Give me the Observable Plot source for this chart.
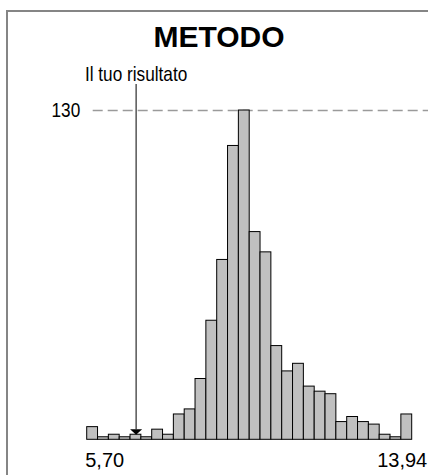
<!DOCTYPE html>
<html>
<head>
<meta charset="utf-8">
<script src="https://cdn.jsdelivr.net/npm/d3@7"></script>
<script src="https://cdn.jsdelivr.net/npm/@observablehq/plot@0.6"></script>
<style>
  html, body { margin: 0; padding: 0; background: #fff; }
  body { width: 428px; height: 475px; position: relative; overflow: hidden; font-family: "Liberation Sans", Arial, sans-serif; }
  #frame { position: absolute; left: 6px; top: 10px; width: 600px; height: 600px; border-left: 2px solid #858585; border-top: 2px solid #858585; }
  #title { position: absolute; left: 0; top: 22px; width: 438px; text-align: center; font-size: 30px; line-height: 30px; font-weight: bold; color: #000; }
  #chart { position: absolute; left: 0; top: 0; }
</style>
</head>
<body>
<div id="frame"></div>
<div id="chart"></div>
<div id="title"></div>
<script>
// ---- data ----
const title = "METODO";
const resultLabel = "Il tuo risultato";
const xMin = 5.70;
const xMax = 13.94;
const counts = [5, 1, 2, 1, 2, 1, 4, 2, 10, 12, 24, 47, 71, 116, 130, 82, 74, 37, 27, 30, 21, 19, 18, 7, 9, 7, 6, 2, 1, 10];
const yourResult = 6.94;
const refLine = 130;
const xTickLabels = ["5,70", "13,94"];

// ---- build table ----
const binW = (xMax - xMin) / counts.length;
const bins = counts.map((c, i) => ({x1: xMin + i * binW, x2: xMin + (i + 1) * binW, count: c}));
const resultBin = bins.find(b => yourResult >= b.x1 && yourResult < b.x2);

document.getElementById("title").textContent = title;

// flat downward-pointing triangle symbol
const downTri = {
  draw(ctx, size) {
    const w = 6, h = 5.5;
    ctx.moveTo(-w, -h);
    ctx.lineTo(w, -h);
    ctx.lineTo(0, 0);
    ctx.closePath();
  }
};

const chart = Plot.plot({
  width: 428,
  height: 475,
  marginLeft: 86.7,
  marginRight: 16.3,
  marginTop: 110,
  marginBottom: 35.7,
  style: {fontFamily: "'Liberation Sans', Arial, sans-serif", background: "transparent", overflow: "visible"},
  x: {domain: [xMin, xMax], axis: null},
  y: {domain: [0, refLine], axis: null},
  marks: [
    Plot.ruleY([refLine], {stroke: "#9a9a9a", strokeWidth: 1.6, strokeDasharray: "10,5", insetLeft: 6, insetRight: -17}),
    Plot.text([refLine], {y: d => d, text: d => String(d), frameAnchor: "left", textAnchor: "end", dx: -7, fontSize: 21, fill: "#000", className: "narrow"}),
    Plot.rectY(bins, {x1: "x1", x2: "x2", y: "count", fill: "#c0c0c0", stroke: "#000", strokeWidth: 1}),
    Plot.ruleX([yourResult], {x: d => d, y1: refLine, y2: resultBin.count, insetTop: -26, insetBottom: 5, stroke: "#000", strokeWidth: 1}),
    Plot.dot([yourResult], {x: d => d, y: resultBin.count, symbol: downTri, fill: "#000", stroke: "none", r: 4}),
    Plot.text([resultLabel], {x: yourResult, text: d => d, frameAnchor: "top", lineAnchor: "bottom", dy: -30, fontSize: 21, fill: "#000", className: "narrow"}),
    Plot.text([xTickLabels[0]], {x: xMin, text: d => d, frameAnchor: "bottom", lineAnchor: "top", textAnchor: "start", dx: -2, dy: 13, fontSize: 20, fill: "#000"}),
    Plot.text([xTickLabels[1]], {x: xMax, text: d => d, frameAnchor: "bottom", lineAnchor: "top", textAnchor: "end", dx: 15, dy: 13, fontSize: 20, fill: "#000"})
  ]
});
document.getElementById("chart").appendChild(chart);

// condense the narrow-font labels (Arial Narrow look)
d3.select(chart).selectAll(".narrow text").each(function() {
  const w = this.getComputedTextLength();
  this.setAttribute("textLength", (w * 0.82).toFixed(1));
  this.setAttribute("lengthAdjust", "spacingAndGlyphs");
});
</script>
</body>
</html>
